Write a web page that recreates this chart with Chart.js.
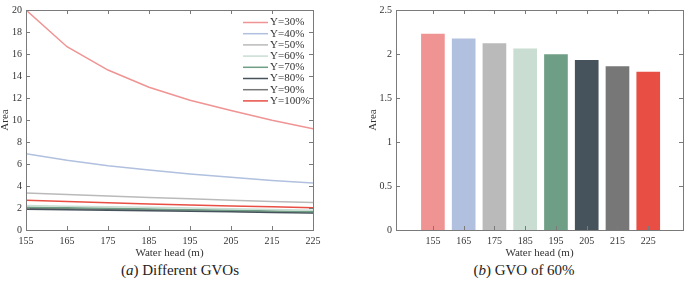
<!DOCTYPE html>
<html>
<head>
<meta charset="utf-8">
<script src="https://cdn.jsdelivr.net/npm/chart.js@4/dist/chart.umd.min.js"></script>
<style>
  body { margin: 0; background: #fff; width: 685px; height: 289px; position: relative; overflow: hidden; }
  canvas { position: absolute; top: 0; }
  #left { left: 0; }
  #right { left: 340px; }
  .caption { position: absolute; top: 262px; font-family: "Liberation Serif", serif; font-size: 15px; color: #222; white-space: nowrap; transform: translateX(-50%); }
</style>
</head>
<body>
<canvas id="left" width="340" height="262"></canvas>
<canvas id="right" width="345" height="262"></canvas>
<div class="caption" style="left:180px">(<i>a</i>) Different GVOs</div>
<div class="caption" style="left:524px">(<i>b</i>) GVO of 60%</div>
<script>
// Water head categories (m)
const waterHead = [155, 165, 175, 185, 195, 205, 215, 225];

// Area for each gas volume ratio
const seriesLabels = ['Y=30%', 'Y=40%', 'Y=50%', 'Y=60%', 'Y=70%', 'Y=80%', 'Y=90%', 'Y=100%'];
const y30 = [20.0, 16.66, 14.54, 12.98, 11.8, 10.86, 9.97, 9.2];
const y40 = [6.93, 6.34, 5.84, 5.46, 5.1, 4.8, 4.51, 4.27];
const y50 = [3.37, 3.22, 3.08, 2.95, 2.83, 2.71, 2.6, 2.49];
const y60 = [2.22, 2.17, 2.12, 2.06, 1.99, 1.93, 1.86, 1.79];
const y70 = [2.07, 2.02, 1.97, 1.91, 1.85, 1.79, 1.73, 1.67];
const y80 = [1.88, 1.84, 1.8, 1.75, 1.7, 1.65, 1.6, 1.55];
const y90 = [1.98, 1.93, 1.88, 1.83, 1.77, 1.71, 1.66, 1.6];
const y100 = [2.7, 2.58, 2.47, 2.37, 2.28, 2.19, 2.11, 2.03];

// GVO of 60% bars
const barValues = [2.225, 2.173, 2.118, 2.06, 1.993, 1.927, 1.858, 1.795];

const palette = ['#f09393', '#b0c0de', '#bababa', '#c9ddd2', '#6e9e85', '#47535c', '#777777', '#e84e44'];

const serif = 'Liberation Serif';
const tickFont = { family: serif, size: 10 };
const titleFont = { family: serif, size: 11 };
const axisColor = '#7a7a7a';
const textColor = '#333';

Chart.defaults.font.family = serif;

// Box around the plot with MATLAB-style inward ticks
const boxTicks = {
    id: 'boxTicks',
    afterDraw(chart) {
        const { ctx, chartArea: a, scales } = chart;
        ctx.save();
        ctx.strokeStyle = axisColor;
        ctx.lineWidth = 1;
        ctx.strokeRect(Math.round(a.left) + 0.5, Math.round(a.top) + 0.5,
            Math.round(a.right - a.left), Math.round(a.bottom - a.top));
        ctx.beginPath();
        scales.x.ticks.forEach(t => {
            const x = Math.round(scales.x.getPixelForValue(t.value)) + 0.5;
            ctx.moveTo(x, a.bottom); ctx.lineTo(x, a.bottom - 4);
            ctx.moveTo(x, a.top); ctx.lineTo(x, a.top + 4);
        });
        scales.y.ticks.forEach(t => {
            const y = Math.round(scales.y.getPixelForValue(t.value)) + 0.5;
            ctx.moveTo(a.left, y); ctx.lineTo(a.left + 4, y);
            ctx.moveTo(a.right, y); ctx.lineTo(a.right - 4, y);
        });
        ctx.stroke();
        ctx.restore();
    }
};

// Legend drawn inside the plot, upper right
const innerLegend = {
    id: 'innerLegend',
    afterDraw(chart) {
        const { ctx, chartArea: a } = chart;
        ctx.save();
        ctx.font = '11px "' + serif + '"';
        ctx.textBaseline = 'middle';
        ctx.fillStyle = textColor;
        chart.data.datasets.forEach((ds, i) => {
            const y = a.top + 12.5 + i * 11.2;
            const x0 = a.right - 70;
            ctx.strokeStyle = ds.borderColor;
            ctx.lineWidth = 1.5;
            ctx.beginPath();
            ctx.moveTo(x0, y); ctx.lineTo(x0 + 25, y);
            ctx.stroke();
            ctx.fillText(ds.label, x0 + 27, y);
        });
        ctx.restore();
    }
};

const lineSeries = [y30, y40, y50, y60, y70, y80, y90, y100];

function drawCharts() {
    new Chart(document.getElementById('left'), {
        type: 'line',
        data: {
            datasets: lineSeries.map((vals, i) => ({
                label: seriesLabels[i],
                data: waterHead.map((x, j) => ({ x: x, y: vals[j] })),
                borderColor: palette[i],
                borderWidth: 1.5,
                pointRadius: 0,
                tension: 0
            }))
        },
        options: {
            responsive: false,
            animation: false,
            layout: { padding: { top: 4, right: 27, left: 0, bottom: 0 } },
            plugins: { legend: { display: false }, tooltip: { enabled: false } },
            scales: {
                x: {
                    type: 'linear', min: 155, max: 225,
                    grid: { display: false, drawTicks: false },
                    border: { display: false },
                    ticks: { stepSize: 10, font: tickFont, color: textColor, padding: 5 },
                    title: { display: true, text: 'Water head (m)', font: titleFont, color: textColor, padding: { top: 0, bottom: 2 } },
                    afterFit(s) { s.height = 32; }
                },
                y: {
                    min: 0, max: 20,
                    grid: { display: false, drawTicks: false },
                    border: { display: false },
                    ticks: { stepSize: 2, font: tickFont, color: textColor, padding: 4 },
                    title: { display: true, text: 'Area', font: titleFont, color: textColor, padding: { top: -1, bottom: 0 } },
                    afterFit(s) { s.width = 26; }
                }
            }
        },
        plugins: [boxTicks, innerLegend]
    });

    new Chart(document.getElementById('right'), {
        type: 'bar',
        data: {
            datasets: [{
                label: 'GVO 60%',
                data: waterHead.map((x, j) => ({ x: x, y: barValues[j] })),
                backgroundColor: palette,
                barThickness: 23
            }]
        },
        options: {
            responsive: false,
            animation: false,
            layout: { padding: { top: 3, right: 2, left: 0, bottom: 0 } },
            plugins: { legend: { display: false }, tooltip: { enabled: false } },
            scales: {
                x: {
                    type: 'linear', min: 143, max: 236.3, offset: false,
                    grid: { display: false, drawTicks: false },
                    border: { display: false },
                    afterBuildTicks(s) { s.ticks = waterHead.map(v => ({ value: v })); },
                    ticks: { font: tickFont, color: textColor, padding: 5 },
                    title: { display: true, text: 'Water head (m)', font: titleFont, color: textColor, padding: { top: 0, bottom: 2 } },
                    afterFit(s) { s.height = 32; }
                },
                y: {
                    min: 0, max: 2.5,
                    grid: { display: false, drawTicks: false },
                    border: { display: false },
                    ticks: {
                        stepSize: 0.5, font: tickFont, color: textColor, padding: 4,
                        callback: v => String(+v.toFixed(2))
                    },
                    title: { display: true, text: 'Area', font: titleFont, color: textColor, padding: { top: 27, bottom: 0 } },
                    afterFit(s) { s.width = 56; }
                }
            }
        },
        plugins: [boxTicks]
    });
}

if (document.fonts && document.fonts.load) {
    document.fonts.load('10px "Liberation Serif"').then(drawCharts, drawCharts);
} else {
    drawCharts();
}
</script>
</body>
</html>
